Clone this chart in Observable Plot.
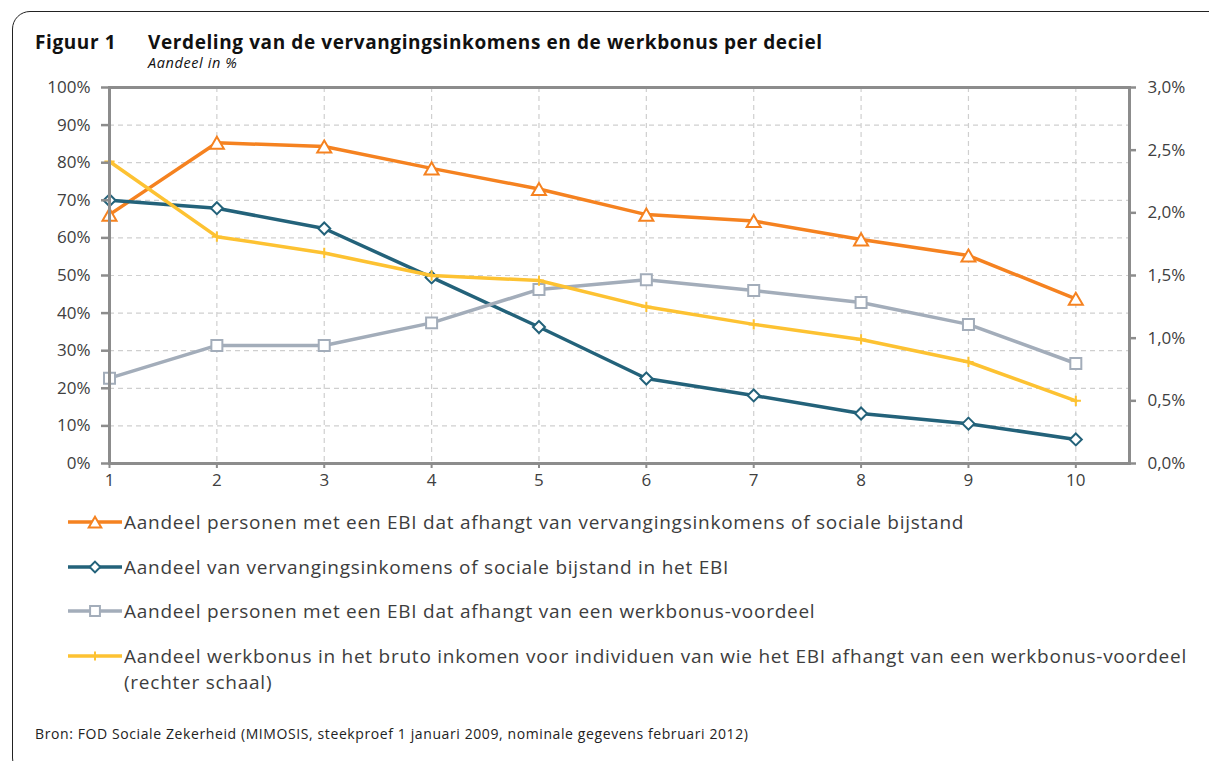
<!DOCTYPE html>
<html>
<head>
<meta charset="utf-8">
<script src="https://cdn.jsdelivr.net/npm/d3@7"></script>
<script src="https://cdn.jsdelivr.net/npm/@observablehq/plot@0.6"></script>
<style>
  body { margin: 0; background: #fff; }
  #page { position: relative; width: 1209px; height: 761px; overflow: hidden; font-family: "Open Sans", sans-serif; color: #3d3d3d; }
  #frame { position: absolute; left: 12px; top: 11px; width: 1240px; height: 765px; border: 1.5px solid #222; border-radius: 18px; box-sizing: border-box; }
  .abs { position: absolute; white-space: nowrap; }
  #figno { left: 35px; top: 33px; font-size: 19px; letter-spacing: 0.6px; font-weight: 700; line-height: 1; color: #111; }
  #title { left: 148px; top: 33px; font-size: 19px; letter-spacing: 0.6px; font-weight: 700; line-height: 1; color: #111; }
  #subtitle { left: 148px; top: 56px; font-size: 14.5px; letter-spacing: 0.6px; font-style: italic; line-height: 1; color: #111; }
  #chart { position: absolute; left: 0; top: 0; }
  .lrow { position: absolute; left: 68px; display: flex; align-items: flex-start; }
  .lrow svg { flex: none; }
  .ltext { font-size: 19px; letter-spacing: 0.75px; line-height: 26px; color: #3d3d3d; margin-left: 2px; width: 1078px; white-space: normal; }
  #caption { left: 35px; top: 726px; font-size: 14px; letter-spacing: 0.6px; line-height: 1.2; color: #222; }
</style>
</head>
<body>
<div id="page">
  <div id="frame"></div>
  <div id="chart"></div>
  <div class="abs" id="figno">Figuur 1</div>
  <div class="abs" id="title"></div>
  <div class="abs" id="subtitle"></div>
  <div id="legend"></div>
  <div class="abs" id="caption"></div>
</div>
<script>
// ---- Data ----
const deciles = [1, 2, 3, 4, 5, 6, 7, 8, 9, 10];
const shareReplacementDependent = [66.2, 85.3, 84.3, 78.5, 73.0, 66.2, 64.5, 59.6, 55.3, 43.8];
const shareReplacementInEBI     = [70.0, 67.9, 62.5, 49.5, 36.3, 22.6, 18.1, 13.3, 10.6, 6.4];
const shareWorkBonusDependent   = [22.7, 31.4, 31.4, 37.4, 46.3, 48.9, 46.0, 42.8, 37.0, 26.6];
const workBonusShareGross       = [2.41, 1.81, 1.68, 1.50, 1.46, 1.25, 1.11, 0.99, 0.81, 0.50]; // right scale (%)
const leftTicks  = [0, 10, 20, 30, 40, 50, 60, 70, 80, 90, 100];
const rightTicks = [0, 0.5, 1.0, 1.5, 2.0, 2.5, 3.0];
const rightMax = 3.0;
const seriesNames = [
  "Aandeel personen met een EBI dat afhangt van vervangingsinkomens of sociale bijstand",
  "Aandeel van vervangingsinkomens of sociale bijstand in het EBI",
  "Aandeel personen met een EBI dat afhangt van een werkbonus-voordeel",
  "Aandeel werkbonus in het bruto inkomen voor individuen van wie het EBI afhangt van een werkbonus-voordeel (rechter schaal)"
];
const titleText = "Verdeling van de vervangingsinkomens en de werkbonus per deciel";
const subtitleText = "Aandeel in %";
const captionText = "Bron: FOD Sociale Zekerheid (MIMOSIS, steekproef 1 januari 2009, nominale gegevens februari 2012)";

document.getElementById("title").textContent = titleText;
document.getElementById("subtitle").textContent = subtitleText;
document.getElementById("caption").textContent = captionText;

const toLeft = v => v * 100 / rightMax;
const series = [
  {name: seriesNames[0], values: shareReplacementDependent, map: v => v, color: "#f58220", symbol: "triangle2", r: 6.7, fill: "white", sw: 2, dy: 2},
  {name: seriesNames[1], values: shareReplacementInEBI, map: v => v, color: "#23627a", symbol: "diamond2", r: 5.4, fill: "white", sw: 2, dy: 0},
  {name: seriesNames[2], values: shareWorkBonusDependent, map: v => v, color: "#a3adba", symbol: "square2", r: 7.0, fill: "white", sw: 2, dy: 0},
  {name: seriesNames[3], values: workBonusShareGross, map: toLeft, color: "#fdc232", symbol: "plus", r: 3.4, fill: "none", sw: 2, dy: 0}
];
const rowsOf = s => deciles.map((d, i) => ({decile: d, y: s.map(s.values[i])}));

const gridStyle = {stroke: "#cfcfcf", strokeOpacity: 1, strokeWidth: 1.2, strokeDasharray: "5,4"};
const axisColor = "#8c8c8c";
const textColor = "#404040";

const chart = Plot.plot({
  width: 1209,
  height: 500,
  marginLeft: 109,
  marginRight: 80,
  marginTop: 87,
  marginBottom: 37,
  x: {domain: [1, 10.5], label: null},
  y: {domain: [0, 100], label: null},
  style: {fontFamily: "Open Sans, sans-serif", background: "transparent", overflow: "visible"},
  marks: [
    Plot.gridY(leftTicks.slice(1, -1), gridStyle),
    Plot.gridX(deciles.slice(1), gridStyle),
    ...series.flatMap(s => [
      Plot.line(rowsOf(s), {x: "decile", y: "y", stroke: s.color, strokeWidth: 3.5}),
      Plot.dot(rowsOf(s), {x: "decile", y: "y", symbol: s.symbol, r: s.r, stroke: s.color, fill: s.fill, strokeWidth: s.sw, dy: s.dy})
    ]),
    Plot.frame({stroke: axisColor, strokeWidth: 3}),
    Plot.axisY(leftTicks, {anchor: "left", label: null, tickSize: 8, tickPadding: 11, tickFormat: d => d + "%", stroke: axisColor, strokeWidth: 2.5, fill: textColor, fontSize: 17}),
    Plot.axisY(rightTicks.map(toLeft), {anchor: "right", label: null, tickSize: 6, tickPadding: 12, tickFormat: d => d3.format(".1f")(d * rightMax / 100).replace(".", ",") + "%", stroke: axisColor, strokeWidth: 2.5, fill: textColor, fontSize: 17}),
    Plot.axisX(deciles, {anchor: "bottom", label: null, tickSize: 5, tickPadding: 5, tickFormat: d => String(d), stroke: axisColor, strokeWidth: 2, fill: textColor, fontSize: 17})
  ]
});
document.getElementById("chart").appendChild(chart);

// ---- Legend ----
const legendTops = [509, 554, 598, 643];
const legend = document.getElementById("legend");
const symbolMap = {triangle2: d3.symbolTriangle2, diamond2: d3.symbolDiamond2, square2: d3.symbolSquare2, plus: d3.symbolPlus};
series.forEach((s, i) => {
  const row = document.createElement("div");
  row.className = "lrow";
  row.style.top = legendTops[i] + "px";
  const svg = d3.create("svg").attr("width", 54).attr("height", 26);
  svg.append("line").attr("x1", 0).attr("x2", 54).attr("y1", 13).attr("y2", 13)
    .attr("stroke", s.color).attr("stroke-width", 3.5);
  svg.append("path").attr("transform", `translate(27,${13 + s.dy})`)
    .attr("d", d3.symbol(symbolMap[s.symbol], Math.PI * s.r * s.r * 0.8)())
    .attr("fill", s.fill).attr("stroke", s.color).attr("stroke-width", s.sw);
  row.appendChild(svg.node());
  const t = document.createElement("div");
  t.className = "ltext";
  t.textContent = s.name;
  row.appendChild(t);
  legend.appendChild(row);
});
</script>
</body>
</html>
